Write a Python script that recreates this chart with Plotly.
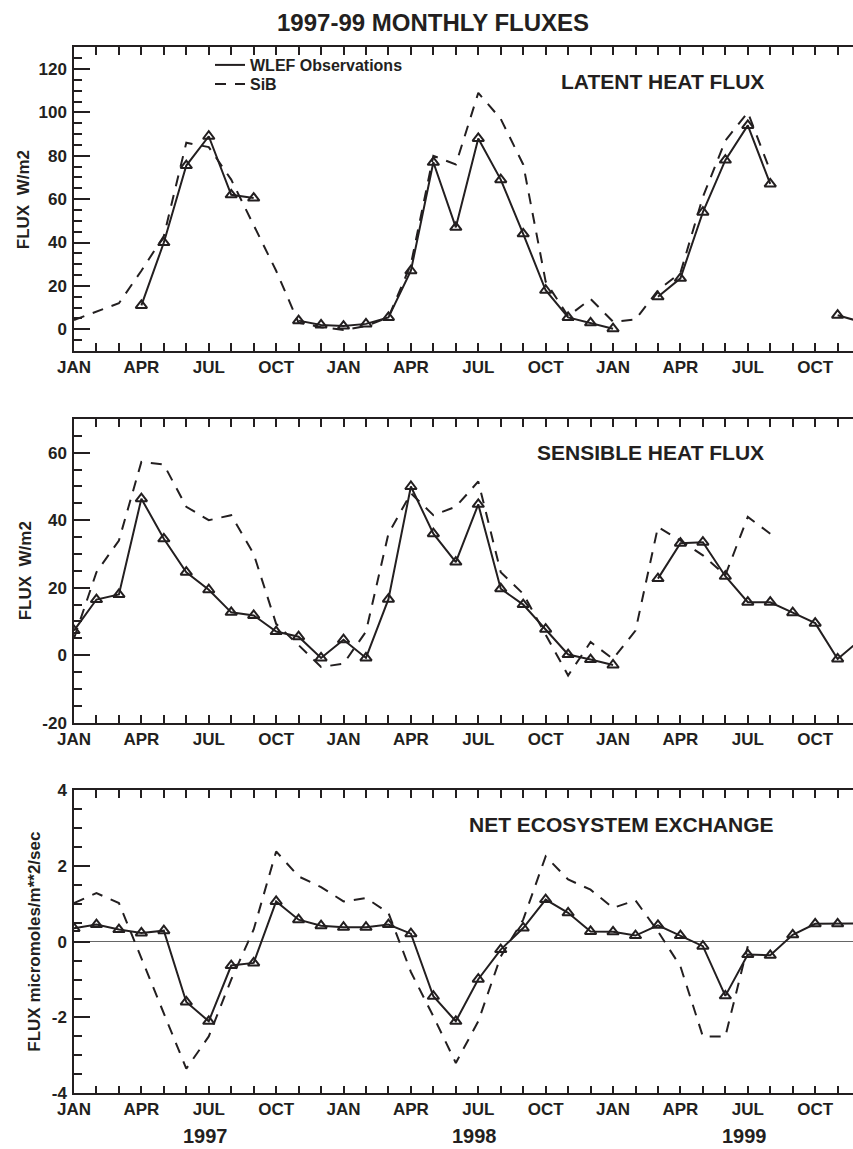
import plotly.graph_objects as go

# ---------------- data (monthly, Jan 1997 .. Dec 1999) ----------------
months = list(range(36))
month_labels = ["JAN", "", "", "APR", "", "", "JUL", "", "", "OCT", "", ""] * 3
years = ["1997", "1998", "1999"]

N = None
latent_obs = [N, N, N, 11, 40, 75.5, 89, 62, 60.5, N, 4, 2,
              1.5, 2.5, 5.5, 27, 77, 47, 88, 69, 44, 18, 5.5, 3,
              0.3, N, 15, 23.5, 54, 78, 94, 67, N, N, 6.5, 3.5]
latent_sib = [4.3, 8, 12, 27, 43, 86, 84, 69, 48, 27, 3, 1,
              -0.3, 1.5, 5.5, 30, 80, 76, 109, 97, 76, 22, 6, 14,
              3.5, 4.5, 18, 26, 61, 87, 100, 73, N, N, N, N]

sens_obs = [7.3, 16.5, 18, 46.4, 34.5, 24.6, 19.4, 12.7, 11.8, 7, 5.5, -0.8,
            4.6, -0.8, 16.6, 50, 36, 27.6, 44.7, 19.7, 15, 7.7, 0.2, -1.3,
            -2.9, N, 22.7, 33.2, 33.5, 23.4, 15.7, 15.7, 12.6, 9.5, -1.1, 4.5]
sens_sib = [5, 24.6, 34, 57.3, 56.5, 44, 40, 41.5, 30, 9.3, 3, -3.5,
            -2.5, 7, 36, 48, 41.5, 44, 51.5, 24.6, 18.2, 6.3, -6, 3.9,
            -1.1, 7.3, 38, 34, 29.6, 23.7, 41, 36, N, N, N, N]

nee_obs = [0.35, 0.45, 0.32, 0.23, 0.29, -1.59, -2.1, -0.63, -0.56, 1.06, 0.58, 0.42,
           0.38, 0.38, 0.45, 0.21, -1.44, -2.1, -0.99, -0.21, 0.36, 1.11, 0.76, 0.27,
           0.26, 0.16, 0.43, 0.16, -0.12, -1.43, -0.34, -0.36, 0.18, 0.47, 0.47, 0.48]
nee_sib = [1.02, 1.28, 1.02, -0.43, -1.9, -3.35, -2.5, -1.0, 0.32, 2.38, 1.72, 1.44,
           1.06, 1.15, 0.76, -0.8, -1.97, -3.2, -2.1, -0.39, 0.58, 2.25, 1.64, 1.37,
           0.89, 1.09, 0.27, -0.65, -2.5, -2.5, -0.12, N, N, N, N, N]

# y tick values / labels (hyphen minus as in the original)
latent_ticks = [0, 20, 40, 60, 80, 100, 120]
sens_ticks = [-20, 0, 20, 40, 60]
nee_ticks = [-4, -2, 0, 2, 4]

panel_titles = ["LATENT HEAT FLUX", "SENSIBLE HEAT FLUX", "NET ECOSYSTEM EXCHANGE"]
y_titles = ["FLUX\u00a0 W/m2", "FLUX\u00a0 W/m2", "FLUX micromoles/m**2/sec"]
main_title = "1997-99 MONTHLY FLUXES"
legend_names = ["WLEF Observations", "SiB"]

# ---------------- layout geometry ----------------
W, H = 853, 1149
ML = 74
PW = W - ML
INK = "#231f20"
FONT = "Liberation Sans, Arial, Helvetica, sans-serif"


def px_x(p):
    return (p - ML) / PW


def px_y(p):
    return 1 - p / H


panels = [
    dict(obs=latent_obs, sib=latent_sib, yr=[-10, 130], ticks=latent_ticks, mdt=5,
         dom=[px_y(351), px_y(47.3)], zero=False,
         title_xy=(662, 82), ytitle_xy=(23, 199.2)),
    dict(obs=sens_obs, sib=sens_sib, yr=[-20, 70], ticks=sens_ticks, mdt=5,
         dom=[px_y(722.7), px_y(419)], zero=False,
         title_xy=(650.5, 452), ytitle_xy=(25.5, 570.8)),
    dict(obs=nee_obs, sib=nee_sib, yr=[-4, 4], ticks=nee_ticks, mdt=0.5,
         dom=[px_y(1093.3), px_y(790)], zero=True,
         title_xy=(621.7, 824.5), ytitle_xy=(35, 941.7)),
]

xmax = PW / 22.46

fig = go.Figure()
layout = dict(
    width=W, height=H,
    margin=dict(l=ML, r=0, t=0, b=0, pad=0, autoexpand=False),
    paper_bgcolor="white", plot_bgcolor="white",
    font=dict(family=FONT, size=17, color=INK, weight="bold"),
    showlegend=True,
)

annotations = []
for k, p in enumerate(panels):
    sfx = "" if k == 0 else str(k + 1)
    xa, ya = "x" + sfx, "y" + sfx
    # SiB (dashed)
    fig.add_trace(go.Scatter(
        x=months, y=p["sib"], mode="lines", name=legend_names[1],
        line=dict(color=INK, width=2, dash="11px,9px"),
        xaxis=xa, yaxis=ya, showlegend=(k == 0), legend="legend2",
        connectgaps=False, hoverinfo="skip"))
    # WLEF observations: line
    fig.add_trace(go.Scatter(
        x=months, y=p["obs"], mode="lines", name=legend_names[0],
        line=dict(color=INK, width=2),
        xaxis=xa, yaxis=ya, showlegend=(k == 0), legend="legend",
        connectgaps=False, hoverinfo="skip"))
    # WLEF observations: open triangles
    fig.add_trace(go.Scatter(
        x=months, y=p["obs"], mode="markers", name=legend_names[0],
        marker=dict(symbol="triangle-up-open", size=10, color=INK,
                    line=dict(color=INK, width=2)),
        xaxis=xa, yaxis=ya, showlegend=False, hoverinfo="skip"))

    tlabels = [str(v) for v in p["ticks"]]
    layout["xaxis" + sfx] = dict(
        domain=[0, 1], anchor=ya, range=[0, xmax],
        tickmode="array", tickvals=months, ticktext=month_labels,
        ticks="inside", ticklen=8, tickwidth=1.5, tickcolor=INK,
        showline=True, linewidth=1.5, linecolor=INK, mirror="ticks",
        showgrid=False, zeroline=False, ticklabelstandoff=0,
        tickfont=dict(family=FONT, size=17, color=INK, weight="bold"))
    layout["yaxis" + sfx] = dict(
        domain=p["dom"], anchor=xa, range=p["yr"],
        tickmode="array", tickvals=p["ticks"], ticktext=tlabels,
        ticks="inside", ticklen=16, tickwidth=1.5, tickcolor=INK,
        minor=dict(tickmode="linear", dtick=p["mdt"], tick0=0, ticks="inside",
                   ticklen=8, tickwidth=1.5, tickcolor=INK, showgrid=False),
        showline=True, linewidth=1.5, linecolor=INK, mirror=False,
        showgrid=False, zeroline=p["zero"], zerolinecolor="#666666",
        zerolinewidth=1.2, ticklabelstandoff=2,
        tickfont=dict(family=FONT, size=17, color=INK, weight="bold"))
    # right-hand side ticks (frame extends just past the visible edge)
    layout["yaxis" + str(k + 4)] = dict(
        overlaying=ya, side="right", anchor=xa, range=p["yr"],
        tickmode="array", tickvals=p["ticks"],
        ticks="inside", ticklen=8, tickwidth=1.5, tickcolor=INK,
        minor=dict(tickmode="linear", dtick=p["mdt"], tick0=0, ticks="inside",
                   ticklen=1, tickwidth=1.5, tickcolor=INK, showgrid=False),
        showticklabels=False, showline=False, showgrid=False, zeroline=False)

    tx, ty = p["title_xy"]
    annotations.append(dict(text=panel_titles[k], x=px_x(tx), y=px_y(ty),
                            xref="paper", yref="paper", showarrow=False,
                            xanchor="center", yanchor="middle",
                            font=dict(family=FONT, size=21, color=INK, weight="bold")))
    vx, vy = p["ytitle_xy"]
    annotations.append(dict(text=y_titles[k], x=px_x(vx), y=px_y(vy),
                            xref="paper", yref="paper", showarrow=False,
                            textangle=-90, xanchor="center", yanchor="middle",
                            font=dict(family=FONT, size=17, color=INK, weight="bold")))

annotations.append(dict(text=main_title, x=px_x(433), y=px_y(22.5),
                        xref="paper", yref="paper", showarrow=False,
                        xanchor="center", yanchor="middle",
                        font=dict(family=FONT, size=24, color=INK, weight="bold")))
for i, yr in enumerate(years):
    annotations.append(dict(text=yr, x=5.85 + 12 * i, y=px_y(1136),
                            xref="x3", yref="paper", showarrow=False,
                            xanchor="center", yanchor="middle", borderpad=0,
                            font=dict(family=FONT, size=20, color=INK, weight="bold")))

layout["annotations"] = annotations
leg_common = dict(xanchor="left", yanchor="middle", bgcolor="rgba(0,0,0,0)",
                  borderwidth=0, font=dict(family=FONT, size=16, color=INK, weight="bold"),
                  itemclick=False, itemdoubleclick=False)
layout["legend"] = dict(x=px_x(210), y=px_y(65), **leg_common)
layout["legend2"] = dict(x=px_x(210), y=px_y(84), **leg_common)

fig.update_layout(**layout)
fig.write_html(
    "out.html",
    post_script="document.body.style.margin='0';document.body.style.padding='0';"
                "document.body.style.overflow='hidden';",
)
